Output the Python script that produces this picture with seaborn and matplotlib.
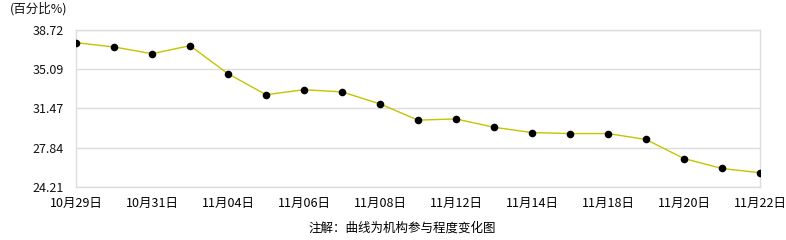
import matplotlib
matplotlib.use("Agg")
import matplotlib.pyplot as plt
import seaborn as sns
import pandas as pd

dates = ["10月29日", "10月30日", "10月31日", "11月01日", "11月04日", "11月05日", "11月06日",
         "11月07日", "11月08日", "11月11日", "11月12日", "11月13日", "11月14日", "11月15日",
         "11月18日", "11月19日", "11月20日", "11月21日", "11月22日"]
values = [37.55, 37.15, 36.53, 37.27, 34.68, 32.74, 33.20, 33.00, 31.89, 30.39, 30.50,
          29.73, 29.24, 29.15, 29.15, 28.60, 26.84, 25.92, 25.53]
yticks = [24.21, 27.84, 31.47, 35.09, 38.72]

sns.set_theme(style="white")
plt.rcParams['font.family'] = ['Noto Sans CJK SC', 'DejaVu Sans']

df = pd.DataFrame({"idx": range(len(dates)), "date": dates, "value": values})

fig = plt.figure(figsize=(7.86, 2.40), dpi=100)
ax = fig.add_axes([76/786, 1-187/240, (760-76)/786, (187-30)/240])

sns.lineplot(data=df, x="idx", y="value", ax=ax, color="#c4c400", linewidth=1.0, zorder=3)
sns.scatterplot(data=df, x="idx", y="value", ax=ax, color="black", s=30, edgecolor="black",
                linewidth=0, zorder=4)

ax.set_xlim(0, len(dates)-1)
ax.set_ylim(yticks[0], yticks[-1])
ax.set_yticks(yticks)
ax.set_yticklabels([f"{v:.2f}" for v in yticks], fontsize=9, color="#111111")
ax.set_xticks(range(len(dates)))
ax.set_xticklabels([d if i % 2 == 0 else "" for i, d in enumerate(dates)], fontsize=9, color="#000000")
ax.tick_params(axis="x", length=8, width=1, color="#dddddd", pad=-1, direction="out")
ax.tick_params(axis="y", length=0, pad=9)
ax.grid(axis="y", color="#dddddd", linewidth=1)
ax.grid(axis="x", visible=False)
for s in ax.spines.values():
    s.set_color("#dddddd")
    s.set_linewidth(1)
    s.set_visible(True)
ax.set_xlabel("")
ax.set_ylabel("")

fig.text(10/786, 1-9/240, "(百分比%)", fontsize=9, ha="left", va="center", color="#111111")
fig.text(402/786, 1-228/240, "注解：曲线为机构参与程度变化图", fontsize=9, ha="center", va="center", color="#000000")

fig.savefig("out.png", dpi=100)
